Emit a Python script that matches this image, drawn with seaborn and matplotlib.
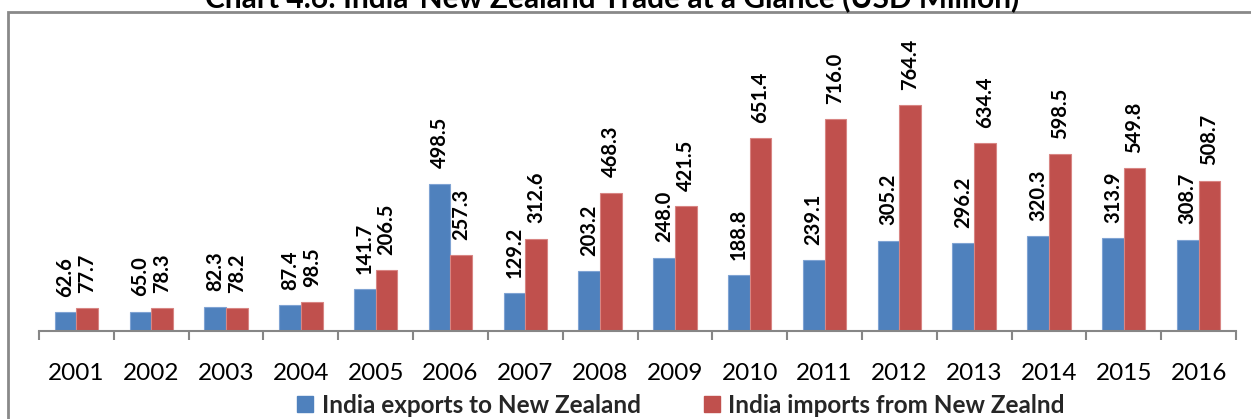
import matplotlib
matplotlib.use("Agg")
import matplotlib.pyplot as plt
from matplotlib.patches import Rectangle, Patch
from matplotlib.ticker import FixedLocator
import seaborn as sns
import pandas as pd

years = ["2001", "2002", "2003", "2004", "2005", "2006", "2007", "2008",
         "2009", "2010", "2011", "2012", "2013", "2014", "2015", "2016"]
exports = [62.6, 65.0, 82.3, 87.4, 141.7, 498.5, 129.2, 203.2,
           248.0, 188.8, 239.1, 305.2, 296.2, 320.3, 313.9, 308.7]
imports = [77.7, 78.3, 78.2, 98.5, 206.5, 257.3, 312.6, 468.3,
           421.5, 651.4, 716.0, 764.4, 634.4, 598.5, 549.8, 508.7]
series_names = ["India exports to New Zealand", "India imports from New Zealnd"]
title = "Chart 4.6: India-New Zealand Trade at a Glance (USD Million)"

colors = ["#4F81BD", "#C0504D"]
edge_colors = ["#7FA3D3", "#D88583"]
axis_gray = "#868686"

sns.set_theme(style="white")
plt.rcParams["font.family"] = ["Lato", "DejaVu Sans"]

df = pd.DataFrame({
    "Year": years * 2,
    "Value": exports + imports,
    "Series": [series_names[0]] * len(years) + [series_names[1]] * len(years),
})

W, H = 1251, 419
fig = plt.figure(figsize=(W / 100, H / 100), dpi=100)
ax = fig.add_axes([39 / W, (H - 331) / H, (1236 - 39) / W, (331 - 40) / H])

sns.barplot(data=df, x="Year", y="Value", hue="Series", order=years,
            hue_order=series_names, palette=colors, width=0.58, gap=0,
            saturation=1, legend=False, ax=ax)

for container, ec, vals in zip(ax.containers, edge_colors, [exports, imports]):
    for bar in container:
        bar.set_edgecolor(ec)
        bar.set_linewidth(0.8)
    ax.bar_label(container, labels=[f"{v:.1f}" for v in vals], rotation=90,
                 padding=11, fontsize=14.5, fontweight="bold", color="black")

ax.set_xlim(-0.5, len(years) - 0.5)
ax.set_ylim(0, 984)
ax.set_xlabel("")
ax.set_ylabel("")
ax.set_yticks([])

for side in ["left", "right", "top"]:
    ax.spines[side].set_visible(False)
ax.spines["bottom"].set_color(axis_gray)
ax.spines["bottom"].set_linewidth(1.5)

ax.tick_params(axis="x", which="major", length=0, pad=23, labelsize=17.5,
               labelcolor="black")
ax.xaxis.set_minor_locator(FixedLocator([i - 0.5 for i in range(len(years) + 1)]))
ax.tick_params(axis="x", which="minor", length=6.5, width=1.5, color=axis_gray,
               direction="out", bottom=True)

handles = [Patch(facecolor=c, edgecolor=c) for c in colors]
fig.legend(handles, series_names, loc="center", bbox_to_anchor=(681 / W, (H - 405) / H),
           ncol=2, frameon=False, handlelength=0.65, handleheight=0.65,
           handletextpad=0.35, columnspacing=2.6, borderpad=0,
           prop={"weight": "bold", "size": 17.5})

# Chart frame, running past the right and bottom edges
fig.patches.append(Rectangle((8 / W, -0.1), 1.2, (H - 12) / H + 0.1,
                             transform=fig.transFigure, fill=False,
                             edgecolor="#898989", linewidth=2.0, clip_on=False))

fig.text(612 / W, (H - 7) / H, title, ha="center", va="baseline",
         fontsize=21.5, fontweight="bold", color="black")

fig.savefig("out.png", dpi=100, facecolor="white")
